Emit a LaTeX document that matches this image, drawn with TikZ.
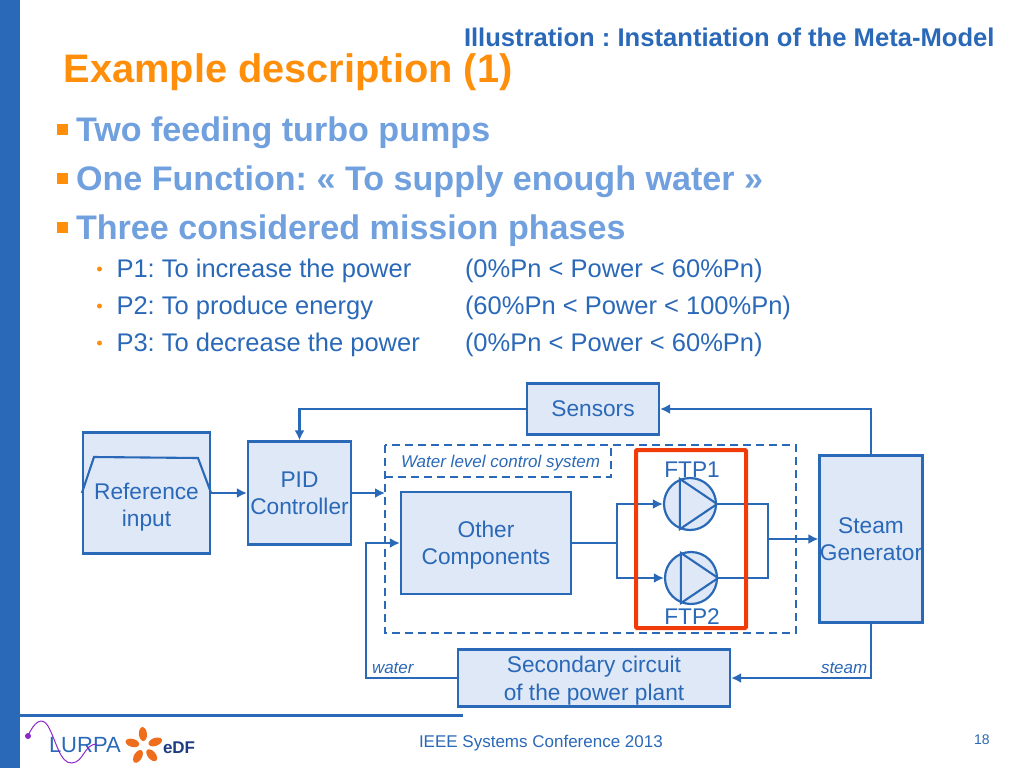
\documentclass[tikz,border=0pt]{standalone}
\usepackage{fontspec}
\usepackage{xcolor}
\usepackage{tikz}
\usetikzlibrary{arrows.meta}
\setmainfont{Liberation Sans}
\definecolor{edfblue}{RGB}{42,104,184}
\definecolor{softblue}{RGB}{112,160,222}
\definecolor{boxfill}{RGB}{223,232,246}
\definecolor{titleorange}{RGB}{255,143,10}
\definecolor{framered}{RGB}{240,60,10}
\definecolor{petalorange}{RGB}{238,110,30}
\definecolor{wavepurple}{RGB}{140,40,200}
\definecolor{edfdark}{RGB}{30,60,130}
\newcommand{\fsize}[2]{\fontsize{#1}{#2}\selectfont}

\begin{document}
\frenchspacing
\begin{tikzpicture}[x=1pt,y=-1pt,
    line width=2pt,edfblue,
    >={Latex[length=10pt,width=10pt]},
    block/.style={draw=edfblue,line width=2.2pt,fill=boxfill,text=edfblue,inner sep=0pt,align=center,font=\fsize{22.7}{27}},
    pump/.style={circle,draw=edfblue,line width=2.2pt,fill=boxfill,inner sep=0pt,minimum size=52pt},
    tag/.style={text=edfblue,inner sep=0pt,anchor=base west,font=\fsize{17}{20}\itshape},
    head/.style={text=softblue,inner sep=0pt,anchor=base west,font=\fsize{34.1}{40}\bfseries},
    line/.style={text=edfblue,inner sep=0pt,anchor=base west,font=\fsize{25.5}{30}},
    wire/.style={draw=edfblue,line width=2.1pt}]
    \useasboundingbox (0,0) rectangle (1024,768);

    % Slide frame
    \fill[edfblue] (0,0) rectangle (20,768);
    \fill[edfblue] (20,714) rectangle (463,717);

    % Titles
    \node[inner sep=0pt,anchor=base west,text=edfblue,font=\fsize{25.6}{30}\bfseries] (subtitle) at (463,46) {Illustration : Instantiation of the Meta-Model};
    \node[inner sep=0pt,anchor=base west,text=titleorange,font=\fsize{39.8}{46}\bfseries] (title) at (62.5,82) {Example description (1)};

    % Main bullets
    \foreach \y/\name/\txt in {141/heada/Two feeding turbo pumps, 190/headb/{One Function: « To supply enough water »}, 239/headc/Three considered mission phases} {
        \fill[titleorange] (57,\y-17) rectangle (68,\y-6);
        \node[head] (\name) at (75,\y) {\txt};
    }

    % Mission phases
    \foreach \y/\name/\txt/\range in {277/pa/P1: To increase the power/{(0\%Pn < Power < 60\%Pn)}, 314/pb/P2: To produce energy/{(60\%Pn < Power < 100\%Pn)}, 351/pc/P3: To decrease the power/{(0\%Pn < Power < 60\%Pn)}} {
        \fill[titleorange] (99.5,\y-8) circle (2.5pt);
        \node[line] (\name) at (115.5,\y) {\txt};
        \node[line] (\name r) at (464,\y) {\range};
    }

    % Water level control system outline
    \draw[wire,line width=2.4pt,dash pattern=on 8pt off 5pt] (385,445) rectangle (796,633);
    \draw[wire,line width=2.4pt,dash pattern=on 8pt off 5pt] (385,477) -- (611,477) -- (611,445);
    \node[tag] (wlcs) at (400,467) {Water level control system};
    \coordinate (inlet) at (385,493);

    % Blocks
    \node[block,minimum width=127pt,minimum height=121pt] (ref) at (146.5,493) {};
    \node[block,minimum width=103pt,minimum height=103pt,text depth=-4pt] (pid) at (299.5,493) {PID\\Controller};
    \node[block,minimum width=132pt,minimum height=51pt,text depth=-4pt] (sensors) at (593,409) {Sensors};
    \node[block,minimum width=170pt,minimum height=102pt,text depth=-1.4pt] (other) at (486,543) {Other\\Components};
    \node[block,minimum width=103pt,minimum height=167pt,text depth=-10pt] (steam) at (871,539) {Steam\\Generator};
    \node[block,minimum width=272pt,minimum height=57pt,text depth=-3.4pt] (secondary) at (594,678) {Secondary circuit\\[1pt]of the power plant};

    % Reference profile
    \draw[wire] (ref.west) -- (94,457) -- (198,458) -- (ref.east);
    \node[inner sep=0pt,align=center,text=edfblue,font=\fsize{22.7}{27}] (reflabel) at (146.5,507) {Reference\\input};

    % Pumps
    \node[pump] (ftpa) at (690,504) {};
    \node[pump] (ftpb) at (691,578) {};
    \foreach \p in {ftpa,ftpb} {
        \draw[wire] (\p.112) -- (\p.east) -- (\p.-112) -- cycle;
    }

    % Junctions around the pumps
    \coordinate (split) at (617,543);
    \coordinate (merge) at (768,539);
    \coordinate (merget) at (768,504);
    \coordinate (mergeb) at (768,578);

    % Connectors
    \draw[wire,->] (ref.east) -- (pid.west);
    \draw[wire,->] (pid.east |- inlet) -- (inlet);
    \draw[wire,->] (sensors.west) -| (pid.north);
    \draw[wire,->] (steam.north) |- (sensors.east);
    \draw[wire,->] (steam.south) |- (secondary.east);
    \draw[wire,->] (secondary.west) -- (366,678) |- (other.west);
    \draw[wire] (other.east) -- (split);
    \draw[wire,->] (split) |- (ftpa.west);
    \draw[wire,->] (split) |- (ftpb.west);
    \draw[wire] (ftpa.east) -- (merget) -- (mergeb) -- (ftpb.east);
    \draw[wire,->] (merge) -- (steam.west);

    \node[tag] (water) at (371,673) {water};
    \node[tag] (steamtag) at (820,673) {steam};

    % Highlight around the two pumps
    \draw[framered,line width=4pt,rounded corners=1pt] (636,450) rectangle (746,628);
    \node[inner sep=0pt,text=edfblue,font=\fsize{22.7}{27}] (ftpalabel) at (692,470) {FTP1};
    \node[inner sep=0pt,text=edfblue,font=\fsize{22.7}{27}] (ftpblabel) at (692,617) {FTP2};

    % Footer
    \node[inner sep=0pt,anchor=base west,text=edfblue,font=\fsize{17}{20}] (conf) at (418,747) {IEEE Systems Conference 2013};
    \node[inner sep=0pt,anchor=base west,text=edfblue,font=\fsize{14}{16}] (page) at (973,744) {18};

    % Logos
    \node[inner sep=0pt,anchor=base west,text=edfblue,font=\fsize{22}{26}] (lurpa) at (48,752) {LURPA};
    \draw[wavepurple,line width=1pt] (28,736) .. controls (34,722) and (42,716) .. (48,726) .. controls (56,740) and (60,764) .. (72,763) .. controls (84,762) and (84,744) .. (97,744);
    \fill[wavepurple] (28,736) circle (3pt);
    \foreach \a in {20,95,165,240,310} {
        \fill[petalorange,rotate around={\a:(144,746)}] (156,746) ellipse (7pt and 4pt);
    }
    \node[inner sep=0pt,anchor=base west,text=edfdark,font=\fsize{17}{20}\bfseries] (edf) at (162,753) {eDF};
\end{tikzpicture}
\end{document}
